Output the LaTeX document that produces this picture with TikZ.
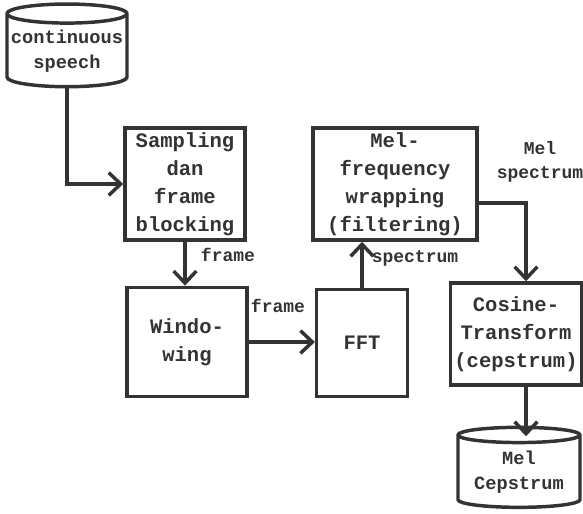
\documentclass[tikz,border=0pt]{standalone}
\usepackage{fontspec}
\setmonofont{Liberation Mono}
\usetikzlibrary{shapes.geometric,arrows.meta}
\newcommand\boxfont{\fontsize{15.4}{21}\selectfont\ttfamily\bfseries}
\newcommand\lblfont{\fontsize{13.5}{18.5}\selectfont\ttfamily\bfseries}
\newcommand\storefont{\fontsize{14}{19}\selectfont\ttfamily\bfseries}
\begin{document}
\begin{tikzpicture}[x=0.75pt, y=-0.75pt, line width=2.6pt, color=black!80,
  box/.style={draw, rectangle, align=center, font=\boxfont, inner sep=0pt},
  store/.style={draw, cylinder, shape border rotate=90, aspect=0.17, align=center, font=\storefont, inner sep=0pt},
  lbl/.style={align=center, font=\lblfont, inner sep=0pt},
  arr/.style={-{Straight Barb[length=9pt, width=17pt, line width=2.6pt]}}]
\useasboundingbox (0,0) rectangle (583,514);
\node[store, minimum width=90pt, minimum height=62pt] (speech) at (67,51) {continuous\\speech};
\node[box, minimum width=90pt, minimum height=84pt] (samp) at (185,184) {Sampling\\dan\\frame\\blocking};
\node[box, minimum width=90pt, minimum height=82pt] (wind) at (187,342) {Windo-\\wing};
\node[box, minimum width=68pt, minimum height=80pt] (fft) at (362,343) {FFT};
\node[box, minimum width=123pt, minimum height=84pt] (mel) at (395,184) {Mel-\\frequency\\wrapping\\(filtering)};
\node[box, minimum width=98pt, minimum height=76.5pt] (cos) at (516,334) {Cosine-\\Transform\\(cepstrum)};
\node[store, minimum width=91.5pt, minimum height=60pt] (cep) at (519,472) {Mel\\Cepstrum};
\coordinate (turn) at (526,203);
\node[lbl] (f1) at (228,255) {frame};
\node[lbl] (f2) at (278,306) {frame};
\node[lbl] (sp) at (415,258) {spectrum};
\node[lbl] (msp) at (540,162) {Mel\\spectrum};
\draw[arr] (speech.south) |- (samp.west);
\draw[arr] (samp.south) -- (samp.south |- wind.north);
\draw[arr] (wind.east) -- (wind.east -| fft.west);
\draw[arr] (fft.north) -- (fft.north |- mel.south);
\draw[arr] (mel.east |- turn) -- (turn) -- (turn |- cos.north);
\draw[arr] (turn |- cos.south) -- ([yshift=-8pt]turn |- cep.north);
\end{tikzpicture}
\end{document}
